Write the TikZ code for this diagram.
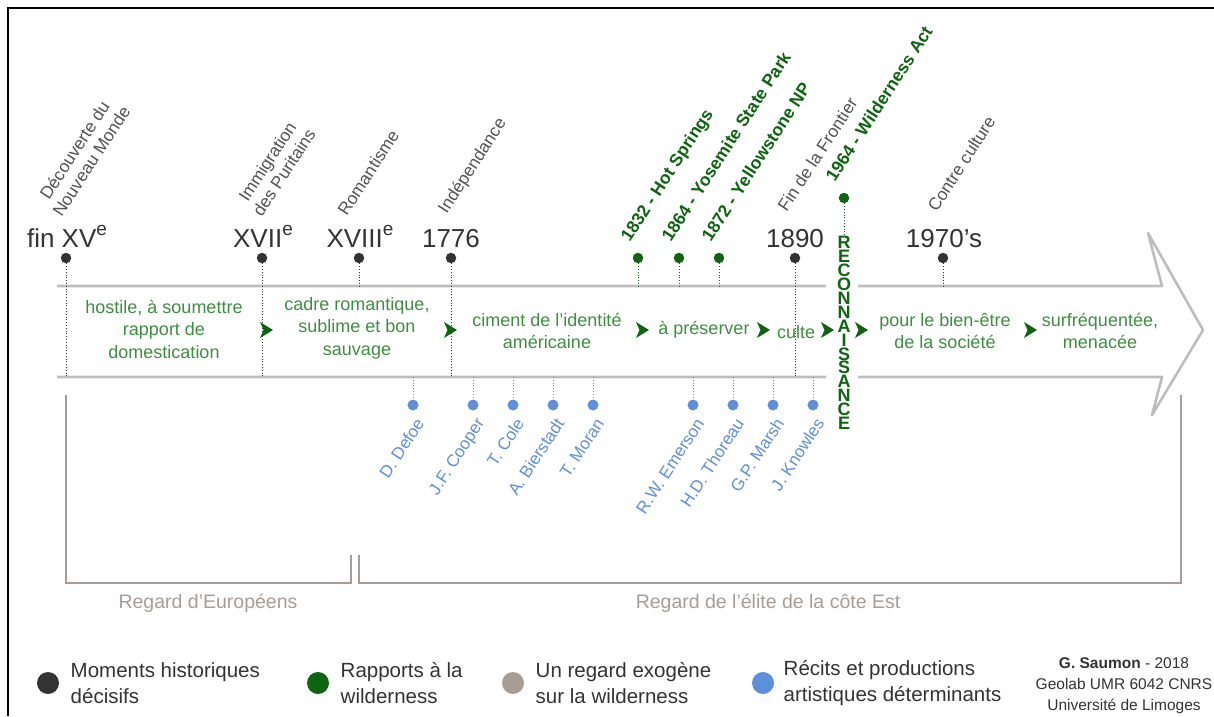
\documentclass[tikz,border=0pt]{standalone}
\usepackage{fontspec}
\setmainfont{Liberation Sans}
\usetikzlibrary{arrows.meta, positioning, calc}
\definecolor{cdark}{HTML}{333333}
\definecolor{cgreen}{HTML}{0E6410}
\definecolor{cleaf}{HTML}{3E8E41}
\definecolor{cblue}{HTML}{5E8FDA}
\definecolor{ctaupe}{HTML}{A89D94}
\definecolor{cgrey}{HTML}{BDBDBD}
\newcommand{\expe}{\raisebox{12pt}{\fontsize{19}{19}\selectfont e}}
\tikzset{
  datelbl/.style={anchor=base, inner sep=0pt, text=cdark, font=\fontsize{26}{26}\selectfont},
  evt/.style={rotate=57, anchor=south west, inner sep=0pt, text depth=0pt, align=center, text=cdark!85, font=\fontsize{17.3}{20}\selectfont},
  wevt/.style={evt, text=cgreen, font=\bfseries\fontsize{17.5}{20}\selectfont},
  hdot/.style={circle, fill=cdark, inner sep=0pt, minimum size=10.5pt},
  wdot/.style={hdot, fill=cgreen},
  adot/.style={hdot, fill=cblue, minimum size=11pt},
  hlink/.style={draw=cdark, dotted, line width=0.8pt},
  wlink/.style={draw=cgreen, dotted, line width=0.8pt},
  alink/.style={draw=cblue, dotted, line width=0.8pt},
  phase/.style={align=center, text=cleaf, font=\fontsize{18}{22.5}\selectfont},
  artist/.style={rotate=57, anchor=base east, inner sep=0pt, text=cblue, font=\fontsize{17}{17}\selectfont},
  reco/.style={align=center, inner sep=0pt, text=cgreen, font=\bfseries\fontsize{18}{13.9}\selectfont},
  body/.style={draw=cgrey, line width=2.6pt, line join=round},
  brace/.style={draw=ctaupe, line width=2pt},
  regard/.style={text=ctaupe, font=\fontsize{19.5}{19.5}\selectfont},
  legdot/.style={circle, inner sep=0pt, minimum size=22pt},
  legtxt/.style={anchor=west, align=left, text=cdark, font=\fontsize{20.5}{26}\selectfont},
}

\begin{document}
\begin{tikzpicture}[x=1pt, y=-1pt]
  \useasboundingbox (0,0) rectangle (1214,716);
  \draw[black, line width=2pt] (8,716) -- (8,8) -- (1214,8);
  % the big arrow
  \draw[body] (57,286) -- (826,286) (858,286) -- (1162,286) -- (1148,233) -- (1203,330)
    -- (1152,415) -- (1162,377) -- (858,377) (826,377) -- (57,377);
  \coordinate (top) at (0,286);
  \coordinate (bot) at (0,377);

  % historical moments
  \node[hdot] (hXV) at (66,258) {};
  \node[hdot] (hXVII) at (262,258) {};
  \node[hdot] (hXVIII) at (359,258) {};
  \node[hdot] (h1776) at (451,258) {};
  \node[hdot] (h1890) at (795,258) {};
  \node[hdot] (h1970) at (943,258) {};
  \draw[hlink] (hXV) -- (hXV |- bot);
  \draw[hlink] (hXVII) -- (hXVII |- bot);
  \draw[hlink] (hXVIII) -- (hXVIII |- top);
  \draw[hlink] (h1776) -- (h1776 |- bot);
  \draw[hlink] (h1890) -- (h1890 |- bot);
  \draw[hlink] (h1970) -- (h1970 |- top);
  \node[datelbl] (tXV) at (67,247) {fin XV\expe};
  \node[datelbl] (tXVII) at (263,247) {XVII\expe};
  \node[datelbl] (tXVIII) at (360,247) {XVIII\expe};
  \node[datelbl] (t1776) at (451,247) {1776};
  \node[datelbl] (t1890) at (795,247) {1890};
  \node[datelbl] (t1970) at (944,247) {1970's};
  \node[evt] (eXV) at (62,218) {Découverte du\\Nouveau Monde};
  \node[evt] (eXVII) at (262,218) {Immigration\\des Puritains};
  \node[evt] (eXVIII) at (347,217) {Romantisme};
  \node[evt] (e1776) at (447,215) {Indépendance};
  \node[evt] (e1890) at (787,213) {Fin de la Frontier};
  \node[evt] (e1970) at (937,213) {Contre culture};

  % wilderness milestones
  \node[wdot] (w1832) at (638,258) {};
  \node[wdot] (w1864) at (679,258) {};
  \node[wdot] (w1872) at (719,258) {};
  \node[wdot] (w1964) at (844,198) {};
  \draw[wlink] (w1832) -- (w1832 |- top);
  \draw[wlink] (w1864) -- (w1864 |- top);
  \draw[wlink] (w1872) -- (w1872 |- top);
  \node[wevt] (l1832) at (630,243) {1832 - Hot Springs};
  \node[wevt] (l1864) at (671,243) {1864 - Yosemite State Park};
  \node[wevt] (l1872) at (711,243) {1872 - Yellowstone NP};
  \node[wevt] (l1964) at (835,183) {1964 - Wilderness Act};
  \node[reco] (reco) at (844,333) {R\\E\\C\\O\\N\\N\\A\\I\\S\\S\\A\\N\\C\\E};
  \draw[wlink] (w1964) -- (reco.north);

  % how wilderness is seen
  \node[phase] (p1) at (164,329) {hostile, à soumettre\\rapport de\\domestication};
  \node[phase] (p2) at (357,328) {cadre romantique,\\sublime et bon\\sauvage};
  \node[phase] (p3) at (547,331) {ciment de l'identité\\américaine};
  \node[phase] (p4) at (704,330) {à préserver};
  \node[phase] (p5) at (796,332) {culte};
  \node[phase] (p6) at (945,331) {pour le bien-être\\de la société};
  \node[phase] (p7) at (1100,331) {surfréquentée,\\menacée};
  \foreach \x in {266,450,642,763,827,861,1030}
    \fill[cgreen, shift={(\x,330)}] (-6,-8) -- (7,0) -- (-6,8) -- (-2.5,0) -- cycle;

  % writers and artists
  \foreach \x/\n/\t in {413/defoe/D. Defoe, 473/cooper/J.F. Cooper, 513/cole/T. Cole,
      553/bierstadt/A. Bierstadt, 593/moran/T. Moran, 693/emerson/R.W. Emerson,
      733/thoreau/H.D. Thoreau, 773/marsh/G.P. Marsh, 813/knowles/J. Knowles} {
    \node[adot] (a\n) at (\x,405) {};
    \draw[alink] (a\n |- bot) -- (a\n);
    \node[artist] (n\n) at ($(a\n)+(12,18)$) {\t};
  }

  % exogenous gaze
  \draw[brace] (66,395) -- (66,583) -- (351,583) -- (351,555);
  \draw[brace] (359,555) -- (359,583) -- (1181,583) -- (1181,395);
  \node[regard] (rEur) at (208,603) {Regard d'Européens};
  \node[regard] (rEst) at (768,603) {Regard de l'élite de la côte Est};

  % legend
  \node[legdot, fill=cdark] (kHist) at (48,683) {};
  \node[legtxt, right=8pt of kHist] (tHist) {Moments historiques\\décisifs};
  \node[legdot, fill=cgreen] (kWild) at (318,683) {};
  \node[legtxt, right=8pt of kWild] (tWild) {Rapports à la\\wilderness};
  \node[legdot, fill=ctaupe] (kExo) at (513,683) {};
  \node[legtxt, right=8pt of kExo] (tExo) {Un regard exogène\\sur la wilderness};
  \node[legdot, fill=cblue] (kArt) at (763,683) {};
  \node[legtxt, right=6pt of kArt] (tArt) {Récits et productions\\artistiques déterminants};
  \node[align=center, text=cdark, font=\fontsize{15.5}{21}\selectfont] (credit) at (1124,686)
    {\textbf{G. Saumon} - 2018\\Geolab UMR 6042 CNRS\\Université de Limoges};
\end{tikzpicture}
\end{document}
